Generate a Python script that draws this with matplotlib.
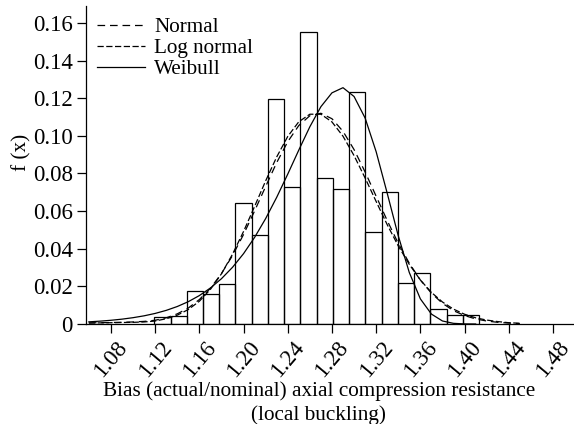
import numpy as np
import matplotlib
matplotlib.use("Agg")
import matplotlib.pyplot as plt

plt.rcParams['font.family'] = ['Liberation Serif', 'DejaVu Serif']
plt.rcParams['font.size'] = 16.5
plt.rcParams['lines.scale_dashes'] = False

# histogram of bias (relative frequency per bin)
bin_start = 1.1192
bin_width = 0.0147
freq = [0.0036, 0.0043, 0.0174, 0.0158, 0.0211, 0.0645, 0.0473, 0.1196, 0.0727, 0.1550,
        0.0774, 0.0718, 0.1232, 0.0489, 0.0700, 0.0220, 0.0269, 0.0078, 0.0049, 0.0049]

# fitted curves at 0.01 steps from 1.06
x_fit = np.round(np.arange(1.06, 1.455, 0.01), 2)
normal = [0.0006, 0.0007, 0.0008, 0.0009, 0.0011, 0.0014, 0.0020, 0.0033, 0.0054, 0.0085,
          0.0130, 0.0190, 0.0268, 0.0364, 0.0476, 0.0601, 0.0731, 0.0858, 0.0969, 0.1055,
          0.1107, 0.1120, 0.1091, 0.1024, 0.0927, 0.0808, 0.0679, 0.0550, 0.0429, 0.0323,
          0.0234, 0.0164, 0.0110, 0.0071, 0.0045, 0.0027, 0.0016, 0.0009, 0.0005, 0.0002]
lognormal = [0.0005, 0.0006, 0.0007, 0.0008, 0.0009, 0.0011, 0.0016, 0.0028, 0.0047, 0.0077,
             0.0121, 0.0184, 0.0267, 0.0371, 0.0492, 0.0625, 0.0761, 0.0888, 0.0997, 0.1075,
             0.1115, 0.1115, 0.1074, 0.0998, 0.0895, 0.0776, 0.0651, 0.0528, 0.0415, 0.0317,
             0.0234, 0.0168, 0.0117, 0.0079, 0.0052, 0.0033, 0.0021, 0.0013, 0.0007, 0.0004]
weibull = [0.00116, 0.00152, 0.00199, 0.00259, 0.00337, 0.00436, 0.00563, 0.00725, 0.0093, 0.01188,
           0.01512, 0.01914, 0.02409, 0.03013, 0.03741, 0.04604, 0.05605, 0.06735, 0.07967, 0.09247,
           0.10485, 0.11551, 0.12286, 0.12560, 0.12091, 0.10948, 0.09155, 0.06951, 0.04687, 0.02735,
           0.01337, 0.00529, 0.00161, 0.00036, 0.00005, 0.0]

xticks = [1.08, 1.12, 1.16, 1.20, 1.24, 1.28, 1.32, 1.36, 1.40, 1.44, 1.48]
yticks = [0, 0.02, 0.04, 0.06, 0.08, 0.10, 0.12, 0.14, 0.16]

fig = plt.figure(figsize=(5.74, 4.24), dpi=100)
ax = fig.add_axes([0.1498, 0.2358, 0.8482, 0.75])

lefts = bin_start + bin_width * np.arange(len(freq))
ax.bar(lefts, freq, width=bin_width, align='edge', fill=False,
       edgecolor='black', linewidth=0.9, zorder=2)

ax.plot(x_fit, normal, color='black', lw=0.9, dashes=(5.5, 3.5), label='Normal', zorder=3)
ax.plot(x_fit, lognormal, color='black', lw=0.9, dashes=(4.5, 1.8), label='Log normal', zorder=3)
ax.plot(x_fit[:len(weibull)], weibull, color='black', lw=0.9, label='Weibull', zorder=3)

ax.set_xlim(1.0574, 1.498)
ax.set_ylim(0, 0.169)
ax.set_xticks(xticks)
ax.set_xticklabels(['%.2f' % v for v in xticks], rotation=50, ha='center', va='top')
ax.set_yticks(yticks)
ax.set_yticklabels(['0'] + ['%.2f' % v for v in yticks[1:]])

ax.spines['top'].set_visible(False)
ax.spines['right'].set_visible(False)
ax.spines['left'].set_linewidth(0.9)
ax.spines['bottom'].set_linewidth(0.9)
ax.tick_params(axis='both', direction='out', length=6.5, width=0.9, pad=3)

ax.set_ylabel('f (x)', fontsize=15.3)
ax.yaxis.set_label_coords(-0.111, 0.54)
ax.set_xlabel('Bias (actual/nominal) axial compression resistance\n(local buckling)',
              fontsize=15.3, linespacing=1.28)
ax.xaxis.set_label_coords(0.478, -0.18)
ax.xaxis.label.set_va('top')

ax.legend(loc='upper left', bbox_to_anchor=(-0.012, 1.017), frameon=False, fontsize=15.2,
          handlelength=2.27, handletextpad=0.43, labelspacing=0.06, borderaxespad=0.4)

fig.savefig('out.png', dpi=100)
